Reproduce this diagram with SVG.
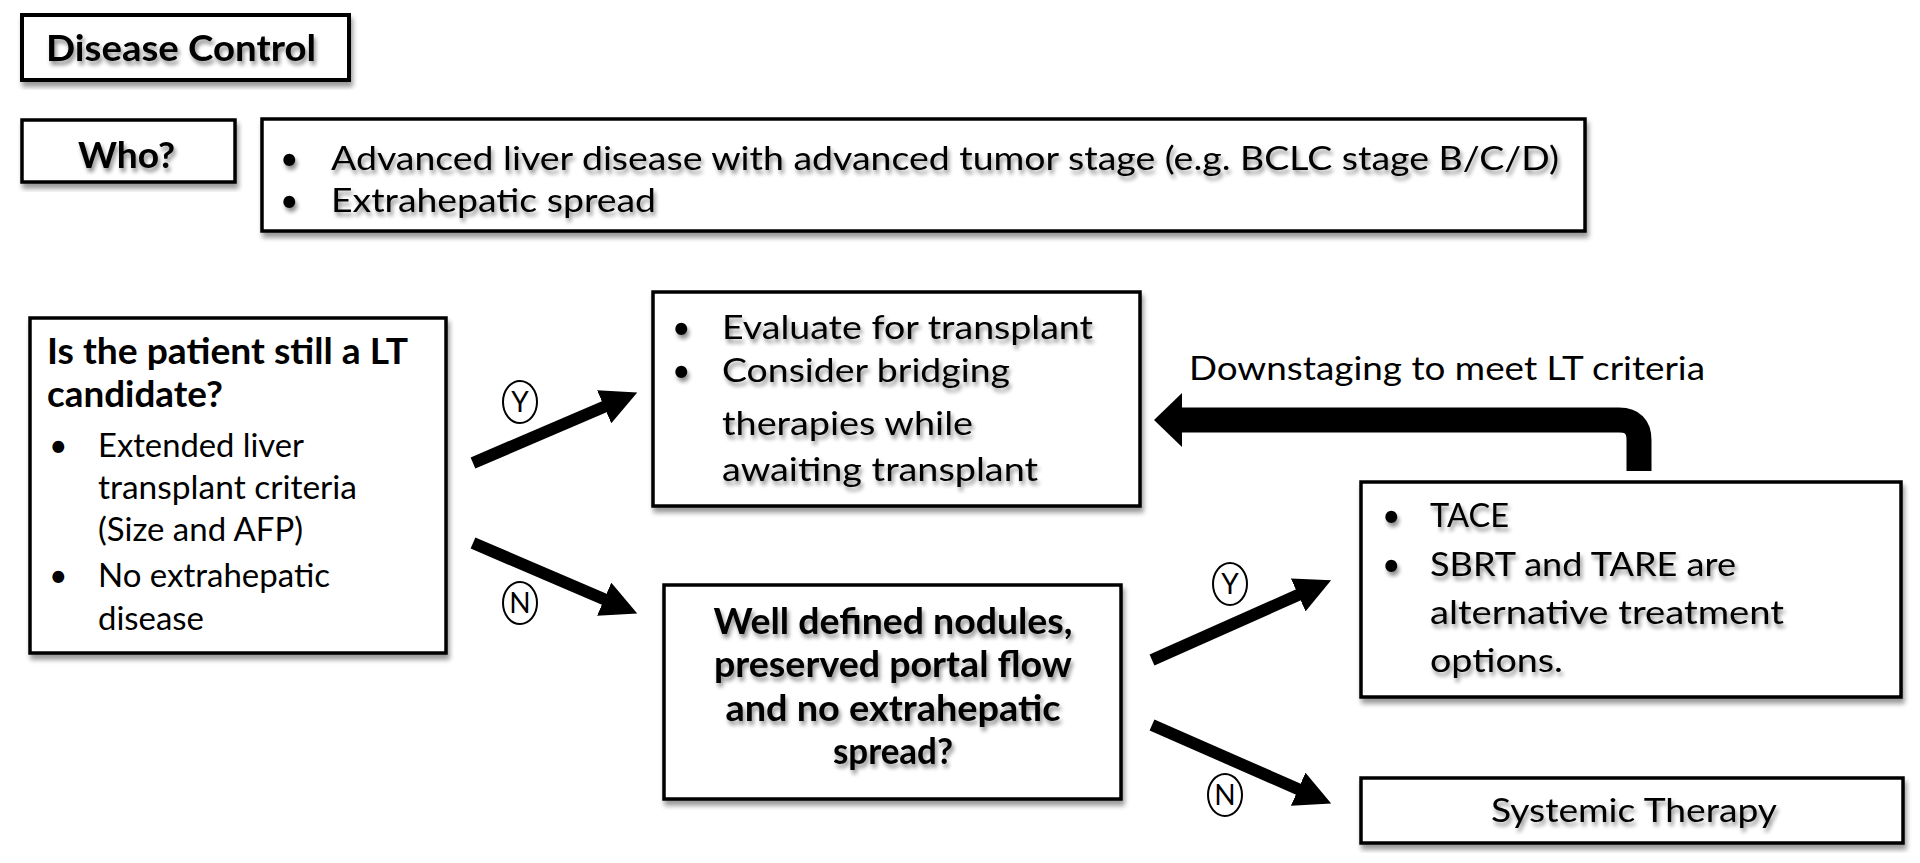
<svg xmlns="http://www.w3.org/2000/svg" width="1920" height="863" viewBox="0 0 1920 863">
<defs>
<filter id="ts" x="-5%" y="-30%" width="110%" height="170%">
<feGaussianBlur in="SourceAlpha" stdDeviation="2"/>
<feOffset dx="2" dy="4" result="b"/>
<feComponentTransfer><feFuncA type="linear" slope="0.45"/></feComponentTransfer>
<feMerge><feMergeNode/><feMergeNode in="SourceGraphic"/></feMerge>
</filter>
<filter id="bs" x="-5%" y="-10%" width="110%" height="125%">
<feGaussianBlur in="SourceAlpha" stdDeviation="2.5"/>
<feOffset dx="2" dy="5"/>
<feComponentTransfer><feFuncA type="linear" slope="0.4"/></feComponentTransfer>
<feMerge><feMergeNode/><feMergeNode in="SourceGraphic"/></feMerge>
</filter>
<marker id="ah" viewBox="0 0 3 3" refX="0.8" refY="1.5" markerWidth="3" markerHeight="3" orient="auto" markerUnits="strokeWidth">
<path d="M0,0 L3,1.5 L0,3 z" fill="#000"/>
</marker>
</defs>
<style>
.box{fill:#fff;stroke:#000;stroke-width:3.5}
.t{font-family:Lato,"Open Sans",sans-serif;font-size:32px;fill:#000}
.b{font-family:Lato,"Open Sans",sans-serif;font-size:36px;font-weight:bold;fill:#000}
.yn{font-family:Lato,"Open Sans",sans-serif;font-size:28px;fill:#000;text-anchor:middle}
.arr{stroke:#000;stroke-width:12;fill:none;marker-end:url(#ah)}
.circ{fill:#fff;stroke:#000;stroke-width:2}
</style>
<rect width="1920" height="863" fill="#fff"/>

<g id="disease-control">
<rect class="box" x="22" y="15" width="327" height="65" filter="url(#bs)" style="stroke-width:4"/>
<text class="b" x="46" y="61" textLength="270" lengthAdjust="spacingAndGlyphs" filter="url(#ts)">Disease Control</text>
</g>

<g id="who">
<rect class="box" x="22" y="120" width="213" height="62" filter="url(#bs)"/>
<text class="b" x="78" y="168" textLength="97" lengthAdjust="spacingAndGlyphs" filter="url(#ts)">Who?</text>
</g>

<g id="who-desc">
<rect class="box" x="262" y="119" width="1323" height="112" filter="url(#bs)"/>
<g filter="url(#ts)">
<text class="t" x="280" y="170">•</text>
<text class="t" x="331" y="170" textLength="1228" lengthAdjust="spacingAndGlyphs">Advanced liver disease with advanced tumor stage (e.g. BCLC stage B/C/D)</text>
<text class="t" x="280" y="212">•</text>
<text class="t" x="331" y="212" textLength="325" lengthAdjust="spacingAndGlyphs">Extrahepatic spread</text>
</g>
</g>

<g id="lt-candidate">
<rect class="box" x="30" y="318" width="416" height="335" filter="url(#bs)"/>
<text class="b" x="47" y="364" textLength="361" lengthAdjust="spacingAndGlyphs">Is the patient still a LT</text>
<text class="b" x="47" y="407" textLength="176" lengthAdjust="spacingAndGlyphs">candidate?</text>
<text class="t" x="49" y="457">•</text>
<text class="t" x="98" y="457" textLength="206" lengthAdjust="spacingAndGlyphs">Extended liver</text>
<text class="t" x="98" y="499" textLength="259" lengthAdjust="spacingAndGlyphs">transplant criteria</text>
<text class="t" x="98" y="541" textLength="205" lengthAdjust="spacingAndGlyphs">(Size and AFP)</text>
<text class="t" x="49" y="587">•</text>
<text class="t" x="98" y="587" textLength="232" lengthAdjust="spacingAndGlyphs">No extrahepatic</text>
<text class="t" x="98" y="630" textLength="106" lengthAdjust="spacingAndGlyphs">disease</text>
</g>

<g id="evaluate">
<rect class="box" x="653" y="292" width="487" height="214" filter="url(#bs)"/>
<g filter="url(#ts)">
<text class="t" x="672" y="339">•</text>
<text class="t" x="722" y="339" textLength="371" lengthAdjust="spacingAndGlyphs">Evaluate for transplant</text>
<text class="t" x="672" y="382">•</text>
<text class="t" x="722" y="382" textLength="288" lengthAdjust="spacingAndGlyphs">Consider bridging</text>
<text class="t" x="722" y="435" textLength="251" lengthAdjust="spacingAndGlyphs">therapies while</text>
<text class="t" x="722" y="481" textLength="316" lengthAdjust="spacingAndGlyphs">awaiting transplant</text>
</g>
</g>

<g id="well-defined">
<rect class="box" x="664" y="585" width="457" height="214" filter="url(#bs)"/>
<g filter="url(#ts)" text-anchor="middle">
<text class="b" x="893" y="634" textLength="359" lengthAdjust="spacingAndGlyphs">Well defined nodules,</text>
<text class="b" x="893" y="677" textLength="358" lengthAdjust="spacingAndGlyphs">preserved portal flow</text>
<text class="b" x="893" y="721" textLength="335" lengthAdjust="spacingAndGlyphs">and no extrahepatic</text>
<text class="b" x="893" y="764" textLength="120" lengthAdjust="spacingAndGlyphs">spread?</text>
</g>
</g>

<g id="tace">
<rect class="box" x="1361" y="482" width="540" height="215" filter="url(#bs)"/>
<g filter="url(#ts)">
<text class="t" x="1382" y="527">•</text>
<text class="t" x="1430" y="527" textLength="79" lengthAdjust="spacingAndGlyphs">TACE</text>
<text class="t" x="1382" y="576">•</text>
<text class="t" x="1430" y="576" textLength="306" lengthAdjust="spacingAndGlyphs">SBRT and TARE are</text>
<text class="t" x="1430" y="624" textLength="354" lengthAdjust="spacingAndGlyphs">alternative treatment</text>
<text class="t" x="1430" y="672" textLength="133" lengthAdjust="spacingAndGlyphs">options.</text>
</g>
</g>

<g id="systemic">
<rect class="box" x="1361" y="778" width="542" height="65" filter="url(#bs)"/>
<text class="t" x="1634" y="822" text-anchor="middle" textLength="286" lengthAdjust="spacingAndGlyphs" filter="url(#ts)">Systemic Therapy</text>
</g>

<g id="connectors">
<line class="arr" x1="473" y1="463" x2="613" y2="403"/>
<line class="arr" x1="473" y1="543" x2="613" y2="603"/>
<line class="arr" x1="1152" y1="660" x2="1307" y2="591"/>
<line class="arr" x1="1152" y1="725" x2="1307" y2="793"/>
<path d="M1639,471 V440 Q1639,420 1619,420 H1178" fill="none" stroke="#000" stroke-width="25"/>
<polygon points="1154,420 1182,393 1182,447" fill="#000"/>
<text class="t" x="1189" y="380" textLength="516" lengthAdjust="spacingAndGlyphs">Downstaging to meet LT criteria</text>
<ellipse class="circ" cx="520" cy="402" rx="17" ry="21"/>
<text class="yn" x="520" y="412">Y</text>
<ellipse class="circ" cx="520" cy="603" rx="17" ry="21"/>
<text class="yn" x="520" y="613">N</text>
<ellipse class="circ" cx="1230" cy="584" rx="17" ry="21"/>
<text class="yn" x="1230" y="594">Y</text>
<ellipse class="circ" cx="1225" cy="795" rx="17" ry="21"/>
<text class="yn" x="1225" y="805">N</text>
</g>
</svg>
